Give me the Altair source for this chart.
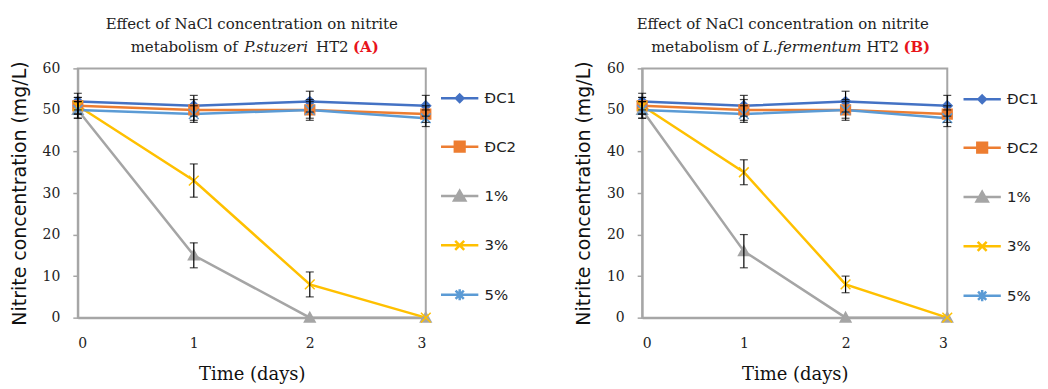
import altair as alt
import pandas as pd

days = [0, 1, 2, 3]
series = ["ĐC1", "ĐC2", "1%", "3%", "5%"]

# Panel A  (P. stuzeri)
A_dc1 = [52, 51, 52, 51]
A_dc1_err = [2, 2.5, 2.5, 2.5]
A_dc2 = [51, 50, 50, 49]
A_dc2_err = [2, 2.5, 2, 2]
A_1 = [50, 15, 0, 0]
A_1_err = [2, 3, 0, 0]
A_3 = [51, 33, 8, 0]
A_3_err = [2, 4, 3, 0]
A_5 = [50, 49, 50, 48]
A_5_err = [2, 2, 2.5, 2]

# Panel B  (L. fermentum)
B_dc1 = [52, 51, 52, 51]
B_dc1_err = [2, 2.5, 2.5, 2.5]
B_dc2 = [51, 50, 50, 49]
B_dc2_err = [2, 2.5, 2, 2]
B_1 = [50, 16, 0, 0]
B_1_err = [2, 4, 0, 0]
B_3 = [51, 35, 8, 0]
B_3_err = [2, 3, 2, 0]
B_5 = [50, 49, 50, 48]
B_5_err = [2, 2, 2.5, 2]

y_ticks = [0, 10, 20, 30, 40, 50, 60]

colors = ["#4472C4", "#ED7D31", "#A5A5A5", "#FFC000", "#5B9BD5"]
marker_paths = [
    "M0,-1L1,0L0,1L-1,0Z",
    "M-1,-1L1,-1L1,1L-1,1Z",
    "M0,-1.1L1.1,0.9L-1.1,0.9Z",
    "M-1,-1L1,1M-1,1L1,-1",
    "M-1,-1L1,1M-1,1L1,-1M0,-1.3L0,1.3",
]
legend_paths = [
    "M-1,0L1,0M0,-0.2L0.2,0L0,0.2L-0.2,0Z",
    "M-1,0L1,0M-0.26,-0.26L0.26,-0.26L0.26,0.26L-0.26,0.26Z",
    "M-1,0L1,0M0,-0.28L0.3,0.24L-0.3,0.24Z",
    "M-1,0L1,0M-0.24,-0.24L0.24,0.24M-0.24,0.24L0.24,-0.24",
    "M-1,0L1,0M-0.22,-0.22L0.22,0.22M-0.22,0.22L0.22,-0.22M0,-0.3L0,0.3",
]

SERIF = "DejaVu Serif"
SANS = "DejaVu Sans"


def make_df(vals, errs):
    rows = []
    for s, v, e in zip(series, vals, errs):
        for d, vv, ee in zip(days, v, e):
            rows.append({"day": d, "value": vv, "err": ee, "series": s, "leg": s})
    return pd.DataFrame(rows)


dfA = make_df([A_dc1, A_dc2, A_1, A_3, A_5], [A_dc1_err, A_dc2_err, A_1_err, A_3_err, A_5_err])
dfB = make_df([B_dc1, B_dc2, B_1, B_3, B_5], [B_dc1_err, B_dc2_err, B_1_err, B_3_err, B_5_err])


def panel(df, w, h, line1, dx_title, pieces, leg_x, leg_y):
    base = alt.Chart(df)
    x = alt.X("day:Q", scale=alt.Scale(domain=[0, 3], nice=False),
              axis=alt.Axis(values=days, title="Time (days)", ticks=False,
                            labelFont=SERIF, labelFontSize=14, labelColor="#222",
                            labelPadding=19, titleFont=SERIF, titleFontSize=18,
                            titleFontWeight="normal", titleColor="#111", titlePadding=15,
                            domainColor="#A6A6A6", domainWidth=2, grid=False))
    y = alt.Y("value:Q", scale=alt.Scale(domain=[0, 60], nice=False),
              axis=alt.Axis(values=y_ticks, title="Nitrite concentration (mg/L)",
                            tickSize=5, tickColor="#A6A6A6", tickWidth=1.5,
                            labelFont=SERIF, labelFontSize=14, labelColor="#222",
                            labelPadding=13, titleFont=SANS, titleFontSize=19,
                            titleFontWeight="normal", titleColor="#111", titlePadding=13,
                            domainColor="#A6A6A6", domainWidth=2, grid=False))
    cscale = alt.Scale(domain=series, range=colors)
    lines = base.mark_line(strokeWidth=2.5).encode(
        x=x, y=y, color=alt.Color("series:N", scale=cscale, legend=None),
        order="day:Q")
    pts = base.mark_point(filled=True, size=95, strokeWidth=1.5, opacity=1).encode(
        x=x, y=y,
        fill=alt.Fill("series:N", scale=cscale, legend=None),
        stroke=alt.Stroke("series:N", scale=cscale, legend=None),
        shape=alt.Shape("series:N", scale=alt.Scale(domain=series, range=marker_paths), legend=None))
    eb = base.transform_filter("datum.err > 0").transform_calculate(
        lo="datum.value - datum.err", hi="datum.value + datum.err")
    rules = eb.mark_rule(color="black", strokeWidth=1.2).encode(
        x=x, y=alt.Y("lo:Q"), y2="hi:Q")
    cap_lo = eb.mark_tick(color="black", orient="horizontal", size=8, thickness=1.2).encode(
        x=x, y=alt.Y("lo:Q"))
    cap_hi = eb.mark_tick(color="black", orient="horizontal", size=8, thickness=1.2).encode(
        x=x, y=alt.Y("hi:Q"))
    leg = base.transform_filter("datum.day < 0").mark_point(filled=True, opacity=1).encode(
        x=x, y=y,
        fill=alt.Fill("leg:N", scale=alt.Scale(domain=series, range=colors),
                      legend=alt.Legend(title=None, orient="none", legendX=leg_x, legendY=leg_y,
                                        symbolSize=1400, symbolStrokeWidth=2.5, symbolOpacity=1,
                                        rowPadding=19.5, labelFont=SANS, labelFontSize=15,
                                        labelColor="#222", labelOffset=5)),
        stroke=alt.Stroke("leg:N", scale=alt.Scale(domain=series, range=colors)),
        shape=alt.Shape("leg:N", scale=alt.Scale(domain=series, range=legend_paths)))
    texts = []
    for txt, px, style, weight, color in pieces:
        texts.append(alt.Chart(df).mark_text(
            text=txt, align="left", baseline="middle", font=SERIF, fontSize=15,
            fontStyle=style, fontWeight=weight, color=color).encode(
            x=alt.value(px), y=alt.value(-21)).transform_filter("datum.day == 0 && datum.series == 'ĐC1'"))
    return alt.layer(lines, pts, rules, cap_lo, cap_hi, leg, *texts).resolve_scale(
        color="independent", fill="independent", stroke="independent", shape="independent"
    ).resolve_legend(
        color="independent", fill="independent", stroke="independent", shape="independent"
    ).properties(
        width=w, height=h,
        title=alt.TitleParams(line1, font=SERIF, fontSize=15, fontWeight="normal",
                              color="#222", anchor="middle", dx=dx_title, offset=8))


piecesA = [("metabolism of", 53, "normal", "normal", "#222"),
           ("P.stuzeri", 167, "italic", "normal", "#222"),
           ("HT2", 239, "normal", "normal", "#222"),
           ("(A)", 276, "normal", "bold", "#E8141B")]
piecesB = [("metabolism of", 9, "normal", "normal", "#222"),
           ("L.fermentum", 121, "italic", "normal", "#222"),
           ("HT2", 225, "normal", "normal", "#222"),
           ("(B)", 262, "normal", "bold", "#E8141B")]

left = panel(dfA, 349, 250, "Effect of NaCl concentration on nitrite", 0, piecesA, 363, 10)
right = panel(dfB, 306, 250, "Effect of NaCl concentration on nitrite", -12, piecesB, 321, 11)

chart = alt.hconcat(left, right, spacing=56).properties(
    padding={"left": 1, "top": 8, "right": 0, "bottom": 5}).configure_view(
    stroke="#A6A6A6", strokeWidth=2)

chart.save("out.html", embed_options={"renderer": "svg", "actions": False})
